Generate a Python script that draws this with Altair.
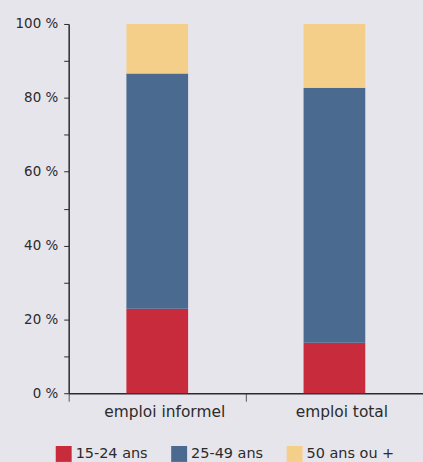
import altair as alt
import pandas as pd

categories = ["emploi informel", "emploi total"]
groups = ["15-24 ans", "25-49 ans", "50 ans ou +"]
v_1524 = [22.9, 13.7]
v_2549 = [63.7, 69.0]
v_50 = [13.4, 17.3]
colors = ["#c82b3c", "#4a6a8f", "#f3cf8a"]

rows = []
for i, c in enumerate(categories):
    for j, (g, vals) in enumerate(zip(groups, [v_1524, v_2549, v_50])):
        rows.append({"cat": c, "grp": g, "val": vals[i], "ord": j})
df = pd.DataFrame(rows)

FONT = "DejaVu Sans"
TXT = "#2b2b2b"

chart = alt.Chart(df).mark_bar(size=62).encode(
    x=alt.X("cat:N", sort=categories, title=None,
            scale=alt.Scale(paddingInner=0, paddingOuter=0),
            axis=alt.Axis(labelAngle=0, tickBand="extent", tickSize=8,
                          tickColor="#555555", domainColor="#2b2b2b", domainWidth=1.5,
                          labelFont=FONT, labelFontSize=15.5, labelColor=TXT,
                          labelPadding=3, labelOffset=7)),
    y=alt.Y("val:Q", stack="zero", title=None,
            scale=alt.Scale(domain=[0, 100], nice=False),
            axis=alt.Axis(values=[0, 10, 20, 30, 40, 50, 60, 70, 80, 90, 100],
                          labelExpr="datum.value % 20 == 0 ? datum.value + ' %' : ''",
                          tickSize=5, tickColor="#2b2b2b", domainColor="#2b2b2b",
                          domainWidth=1.5, grid=False,
                          labelFont=FONT, labelFontSize=13.5, labelColor=TXT,
                          labelPadding=6)),
    color=alt.Color("grp:N", sort=groups, title=None,
                    scale=alt.Scale(domain=groups, range=colors),
                    legend=alt.Legend(orient="none", legendX=-13, legendY=424,
                                      direction="horizontal", symbolType="square",
                                      symbolSize=256, symbolStrokeWidth=0,
                                      symbolOpacity=1, labelFont=FONT,
                                      labelFontSize=14.5, labelColor=TXT,
                                      labelOffset=4, columnPadding=23)),
    order=alt.Order("ord:Q"),
).properties(
    width=356, height=371,
    background="#e7e5ec",
    padding={"left": 69, "top": 23, "right": 0, "bottom": 68},
    autosize=alt.AutoSizeParams(type="none"),
).configure_view(stroke=None, fill="#e7e5ec").configure_axis(grid=False)

chart.save("out.html", embed_options={"renderer": "svg", "actions": False})
